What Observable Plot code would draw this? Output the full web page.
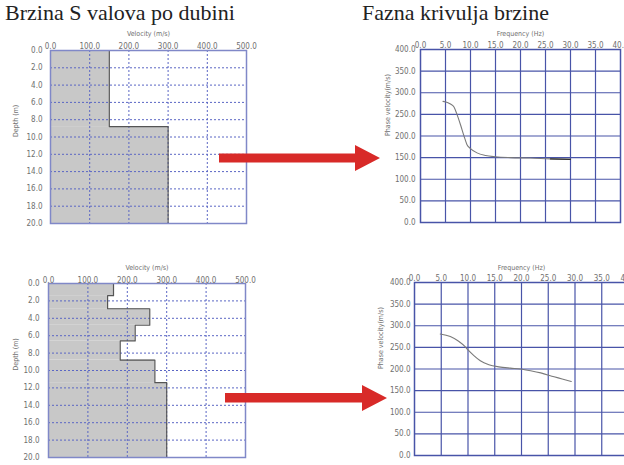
<!DOCTYPE html>
<html><head><meta charset="utf-8">
<script src="https://cdn.jsdelivr.net/npm/d3@7"></script>
<script src="https://cdn.jsdelivr.net/npm/@observablehq/plot@0.6"></script>
<style>
html,body{margin:0;padding:0;background:#fff;width:624px;height:465px;overflow:hidden;position:relative}
.p{position:absolute}
.title{position:absolute;font-family:'Liberation Serif','Times New Roman',serif;font-size:22px;line-height:22px;color:#222;white-space:nowrap;z-index:3}
.arrow{position:absolute;z-index:5}
</style></head><body>
<div class="title" style="left:5px;top:2px">Brzina S valova po dubini</div>
<div class="title" style="left:362px;top:2px">Fazna krivulja brzine</div>
<div id="tl" class="p" style="left:0;top:20px"></div>
<div id="tr" class="p" style="left:370px;top:20px"></div>
<div id="bl" class="p" style="left:0;top:250px"></div>
<div id="br" class="p" style="left:370px;top:250px"></div>
<svg class="arrow" style="left:219px;top:145px" width="162" height="26"><polygon points="0,8.5 136,8.5 136,0 161,13 136,26 136,17.5 0,17.5" fill="#d82a28"/></svg>
<svg class="arrow" style="left:225px;top:385px" width="162" height="26"><polygon points="0,8 137,8 137,0 162,13 137,26 137,17.5 0,17.5" fill="#d82a28"/></svg>
<script>
// ---- data ----
const velTicks = [0, 100, 200, 300, 400, 500];
const depthTicks = [0, 2, 4, 6, 8, 10, 12, 14, 16, 18, 20];
const velGrid = [100, 200, 300, 400];
const depthGrid = [2, 4, 6, 8, 10, 12, 14, 16, 18];
const freqTicks = [0, 5, 10, 15, 20, 25, 30, 35, 40];
const phaseTicks = [0, 50, 100, 150, 200, 250, 300, 350, 400];
const freqGrid = [5, 10, 15, 20, 25, 30, 35];
const phaseGrid = [50, 100, 150, 200, 250, 300, 350];

// model A (top)
const topA = [0, 8.8];
const bottomA = [8.8, 20];
const vsA = [150, 300];
// model B (bottom)
const topB = [0, 1.4, 2.9, 4.8, 6.6, 8.8, 11.4];
const bottomB = [1.4, 2.9, 4.8, 6.6, 8.8, 11.4, 20];
const vsB = [165, 150, 257, 220, 182, 270, 300];

// dispersion curves
const freqA = [4.5, 5.5, 6.0, 6.7, 7.3, 8.0, 8.7, 9.3, 10.0, 11.3, 13.0, 15.0, 18.0, 22.0, 26.0, 30.0];
const velA  = [280, 277, 274, 267, 250, 226, 200, 180, 171, 161, 155, 152, 150, 149, 147, 146];
const freqB = [4.8, 6.7, 8.25, 9.5, 10.0, 11.1, 12.3, 13.9, 15.75, 17.9, 19.8, 21.7, 23.6, 26.1, 27.6, 29.3];
const velB  = [281, 275, 264, 251, 244, 231, 219, 210, 205, 202, 200, 196, 191, 182, 177, 171];

const fmt = d3.format(".1f");
const baseStyle = {
  fontFamily: "'Liberation Sans Narrow','DejaVu Sans Condensed','Liberation Sans',sans-serif",
  fontSize: "8px", color: "#707070", background: "transparent", overflow: "visible", maxWidth: "none"
};

function profile(id, tops, bottoms, vs, g) {
  const rows = vs.map((v, i) => ({v, top: tops[i], bottom: bottoms[i]}));
  const outline = rows.flatMap(r => [{v: r.v, d: r.top}, {v: r.v, d: r.bottom}]);
  const chart = Plot.plot({
    width: g.width, height: g.height,
    marginLeft: g.ml, marginRight: g.mr, marginTop: g.mt, marginBottom: g.mb,
    style: baseStyle,
    x: {domain: [0, 500]},
    y: {domain: [0, 20], reverse: true},
    marks: [
      Plot.rect(rows, {x1: d => 0, x2: "v", y1: "top", y2: "bottom", fill: "#c8c8c8"}),
      Plot.ruleX(velGrid, {stroke: "#5a66c4", strokeWidth: 1, strokeDasharray: "2,2"}),
      Plot.ruleY(depthGrid, {stroke: "#5a66c4", strokeWidth: 1, strokeDasharray: "2,2"}),
      Plot.line(outline, {x: "v", y: "d", stroke: "#555", strokeWidth: 1.2}),
      Plot.frame({stroke: "#8088c8", strokeWidth: 1.5}),
      Plot.axisX({anchor: "top", ticks: velTicks, tickFormat: fmt, tickSize: 0, tickPadding: g.xpad, label: null}),
      Plot.axisY({anchor: "left", ticks: depthTicks, tickFormat: fmt, tickSize: 0, tickPadding: g.ypad, label: null}),
      Plot.text(["Velocity (m/s)"], {text: d => d, frameAnchor: "top", dy: g.xlab, fontSize: 7}),
      Plot.text(["Depth (m)"], {text: d => d, frameAnchor: "left", dx: g.ylab, rotate: -90, fontSize: 7})
    ]
  });
  document.getElementById(id).appendChild(chart);
}

function dispersion(id, fs, vels, g, darkFrom) {
  const pts = fs.map((f, i) => ({f, v: vels[i]}));
  const marks = [
    Plot.ruleX(freqGrid, {stroke: "#4854a8", strokeWidth: 1.2}),
    Plot.ruleY(phaseGrid, {stroke: "#4854a8", strokeWidth: 1.2}),
    Plot.line(pts, {x: "f", y: "v", stroke: "#7a7a7a", strokeWidth: 1.1, curve: "monotone-x"}),
    Plot.frame({stroke: "#4854a8", strokeWidth: 1.5}),
    Plot.axisX({anchor: "top", ticks: freqTicks, tickFormat: fmt, tickSize: 0, tickPadding: g.xpad, label: null}),
    Plot.axisY({anchor: "left", ticks: phaseTicks, tickFormat: fmt, tickSize: 0, tickPadding: g.ypad, label: null}),
    Plot.text(["Frequency (Hz)"], {text: d => d, frameAnchor: "top", dy: g.xlab, fontSize: 7}),
    Plot.text(["Phase velocity(m/s)"], {text: d => d, frameAnchor: "left", dx: g.ylab, rotate: -90, fontSize: 7})
  ];
  if (darkFrom != null) marks.push(Plot.line(pts.filter(p => p.f >= darkFrom), {x: "f", y: "v", stroke: "#333", strokeWidth: 1.2}));
  const chart = Plot.plot({
    width: g.width, height: g.height,
    marginLeft: g.ml, marginRight: g.mr, marginTop: g.mt, marginBottom: g.mb,
    style: baseStyle,
    x: {domain: [0, 40]},
    y: {domain: [0, 400]},
    marks
  });
  document.getElementById(id).appendChild(chart);
}

profile("tl", topA, bottomA, vsA, {width: 250, height: 210, ml: 50, mr: 4, mt: 30, mb: 7, xpad: 2, ypad: 8, xlab: -19, ylab: -35});
profile("bl", topB, bottomB, vsB, {width: 250, height: 215, ml: 48, mr: 5, mt: 33, mb: 8, xpad: 1, ypad: 9, xlab: -18, ylab: -33});
dispersion("tr", freqA, velA, {width: 260, height: 210, ml: 50, mr: 10, mt: 29, mb: 8, xpad: 2, ypad: 5, xlab: -18, ylab: -33}, 26);
dispersion("br", freqB, velB, {width: 268, height: 213, ml: 44, mr: 10, mt: 32, mb: 8, xpad: 2, ypad: 4, xlab: -17, ylab: -34}, null);
</script>
</body></html>
